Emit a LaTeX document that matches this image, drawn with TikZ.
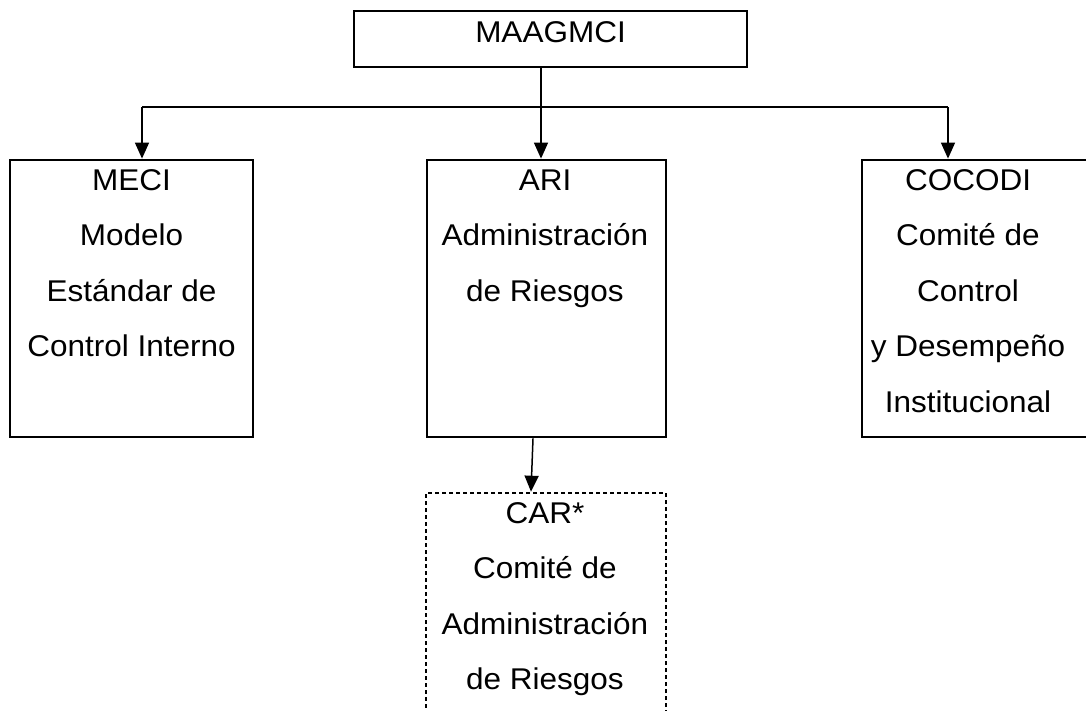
\documentclass[tikz,border=0pt]{standalone}
\usepackage{fontspec}
\setmainfont{Liberation Sans}[FakeStretch=1.05]
\usetikzlibrary{arrows.meta}
\begin{document}
\begin{tikzpicture}[x=1pt,y=-1pt,
  box/.style={draw, line width=2.8pt, inner sep=0pt},
  carbox/.style={box, line width=2.6pt, dash pattern=on 4pt off 3pt},
  txt/.style={anchor=base, align=center, inner sep=0pt, font=\fontsize{30}{55.5}\selectfont},
  conn/.style={line width=1.5pt},
  arr/.style={conn, -{Triangle[length=16pt,width=14pt]}}]
\useasboundingbox (0,0) rectangle (1086,710);
\clip (0,0) rectangle (1086,710);
% boxes
\node[box, minimum width=393pt, minimum height=56pt] (top) at (550.5,39) {};
\node[box, minimum width=243pt, minimum height=277pt] (meci) at (131.5,298.5) {};
\node[box, minimum width=239pt, minimum height=277pt] (ari) at (546.5,298.5) {};
\node[box, minimum width=228pt, minimum height=277pt] (cocodi) at (976,298.5) {};
\node[carbox, minimum width=240pt, minimum height=240pt] (car) at (546,613) {};
% texts (anchor base = baseline of last line)
\node[txt] (topT) at (550.5,42) {MAAGMCI};
\node[txt] (meciT) at (131.5,356.5) {MECI\\Modelo\\Estándar de\\Control Interno};
\node[txt] (ariT) at (545,301) {ARI\\Administración\\de Riesgos};
\node[txt] (cocodiT) at (968,412) {COCODI\\Comité de\\Control\\y Desempeño\\Institucional};
\node[txt] (carT) at (545,689.5) {CAR*\\Comité de\\Administración\\de Riesgos};
% connectors
\coordinate (j) at (541,107);
\coordinate (jl) at (142,107);
\coordinate (jr) at (948,107);
\draw[conn] (top.south -| j) -- (j);
\draw[conn] (jl) -- (jr);
\draw[arr] (j) -- (j |- ari.north);
\draw[arr] (jl) -- (jl |- meci.north);
\draw[arr] (jr) -- (jr |- cocodi.north);
\draw[arr] ([xshift=-13.5pt]ari.south) -- ([xshift=-15pt]car.north);
\end{tikzpicture}
\end{document}
